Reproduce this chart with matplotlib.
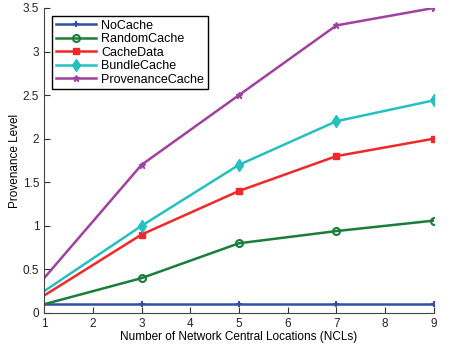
import matplotlib.pyplot as plt
import matplotlib
matplotlib.rcParams['font.family'] = ['Liberation Sans', 'DejaVu Sans']
matplotlib.rcParams['font.size'] = 8.5

ncls = [1, 3, 5, 7, 9]
no_cache = [0.1, 0.1, 0.1, 0.1, 0.1]
random_cache = [0.1, 0.4, 0.8, 0.94, 1.06]
cache_data = [0.2, 0.9, 1.4, 1.8, 2.0]
bundle_cache = [0.25, 1.0, 1.7, 2.2, 2.44]
provenance_cache = [0.4, 1.7, 2.5, 3.3, 3.5]

fig = plt.figure(figsize=(4.5, 3.47), dpi=100)
ax = fig.add_axes([0.098, 0.098, 0.866, 0.879])

mk = [1, 2, 3, 4]
ax.plot(ncls, no_cache, color='#3050a8', lw=1.8, marker='+', ms=5, mew=1.5,
        markevery=mk, label='NoCache')
ax.plot(ncls, random_cache, color='#1a7d3c', lw=1.8, marker='o', ms=5, mew=1.5,
        mfc='none', markevery=mk, label='RandomCache')
ax.plot(ncls, cache_data, color='#f02828', lw=1.8, marker='s', ms=5,
        markevery=mk, label='CacheData')
ax.plot(ncls, bundle_cache, color='#25c0c0', lw=1.8, marker='d', ms=6,
        markevery=mk, label='BundleCache')
ax.plot(ncls, provenance_cache, color='#a040a0', lw=1.8, marker='*', ms=5,
        markevery=mk, label='ProvenanceCache')

ax.set_xlim(1, 9)
ax.set_ylim(0, 3.5)
ax.set_xticks(range(1, 10))
ax.set_yticks([0, 0.5, 1, 1.5, 2, 2.5, 3, 3.5])
ax.set_yticklabels(['0', '0.5', '1', '1.5', '2', '2.5', '3', '3.5'])
ax.tick_params(direction='in', length=4, colors='#333333', labelcolor='#222222')
ax.spines['top'].set_visible(False)
ax.spines['right'].set_visible(False)
for s in ('left', 'bottom'):
    ax.spines[s].set_color('#444444')
ax.set_xlabel('Number of Network Central Locations (NCLs)', labelpad=1)
ax.set_ylabel('Provenance Level', labelpad=1)

leg = ax.legend(loc='upper left', bbox_to_anchor=(0.005, 0.995), fancybox=False,
                edgecolor='black', framealpha=1, handlelength=3.2, fontsize=9,
                borderpad=0.3, labelspacing=0.12, handletextpad=0.4)
leg.get_frame().set_linewidth(1)

fig.savefig('out.png', dpi=100)
plt.close()
